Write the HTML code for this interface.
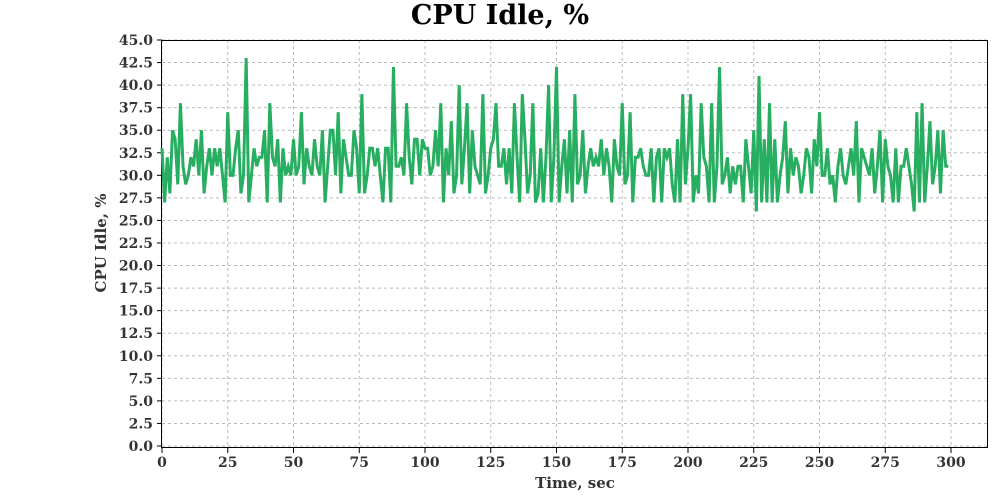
<!DOCTYPE html>
<html><head><meta charset="utf-8"><style>
body{margin:0;background:#fff;}
svg{display:block;font-family:"DejaVu Serif","Liberation Serif",serif;}
</style></head><body>
<svg width="1000" height="500" id="chart">
<text x="500" y="24" text-anchor="middle" font-size="27" font-weight="bold">CPU Idle, %</text>
<text x="575" y="488" text-anchor="middle" font-size="15" font-weight="bold" fill="#333">Time, sec</text>
<text transform="translate(106,243) rotate(-90)" text-anchor="middle" font-size="15" font-weight="bold" fill="#333">CPU Idle, %</text>
<g id="grid"></g>
<g id="yticks"></g>
<g id="xticks"></g>
<rect x="161.5" y="40.5" width="826" height="407" fill="none" stroke="#000" stroke-width="1"/>
<path id="line" fill="none" stroke="#27ae60" stroke-width="3" stroke-linejoin="miter"/>
</svg>
<script>
const values=[33,27,32,28,35,34,29,38,31,29,
30,32,31,34,30,35,28,31,33,30,
33,31,33,30,27,37,30,30,33,35,
28,30,43,27,30,33,31,32,32,35,
27,38,32,31,34,27,33,30,31,30,
34,30,31,37,29,33,31,30,34,31,
30,35,27,31,35,35,30,37,28,34,
32,30,30,35,33,28,39,28,30,33,
33,31,33,30,27,33,33,27,42,31,
31,32,30,38,32,29,34,34,30,34,
33,33,30,31,35,31,38,27,33,30,
36,28,30,40,29,33,38,28,35,31,
30,29,39,28,30,33,34,38,31,31,
33,29,33,28,38,32,27,39,34,28,
30,38,27,28,33,27,32,40,27,32,
42,27,31,34,28,35,27,39,29,30,
35,28,31,33,31,32,31,34,30,33,
31,27,34,31,30,38,29,30,37,27,
32,32,33,31,30,30,33,27,32,33,
27,33,32,33,29,27,34,27,39,29,
33,39,27,30,28,38,32,31,27,38,
27,31,42,29,30,32,28,31,29,31,
31,27,34,31,28,35,26,41,27,34,
27,38,27,34,27,30,32,36,28,33,
30,32,31,28,30,33,32,28,34,31,
37,30,30,33,29,30,27,31,33,30,
29,31,33,30,36,27,33,32,31,30,
33,28,31,35,27,34,31,30,27,33,
27,31,31,33,31,29,26,37,27,38,
27,31,36,29,31,35,28,35,31,31];
const xTicks=[0,25,50,75,100,125,150,175,200,225,250,275,300];
const yTicks=[0,2.5,5,7.5,10,12.5,15,17.5,20,22.5,25,27.5,30,32.5,35,37.5,40,42.5,45];
const NS="http://www.w3.org/2000/svg";
const X=t=>162+t*(951-162)/300;
const Y=v=>446-v*(406/45);
const grid=document.getElementById('grid'),yt=document.getElementById('yticks'),xt=document.getElementById('xticks');
function mk(tag,attrs,parent){const e=document.createElementNS(NS,tag);for(const k in attrs)e.setAttribute(k,attrs[k]);parent.appendChild(e);return e;}
yTicks.forEach(v=>{
 const l=mk('line',{x1:162,x2:988,y1:Y(v),y2:Y(v),stroke:'#bbb','stroke-dasharray':'3,3'},grid);
 
 
 const tk=mk('line',{x1:157,x2:162,y1:Y(v),y2:Y(v),stroke:'#000'},yt);
 
 
 const t=mk('text',{x:153,y:Y(v)+5,'text-anchor':'end','font-size':'14','font-weight':'bold',fill:'#333'},yt);
 t.textContent=v.toFixed(1);
 
 
});
xTicks.forEach(v=>{
 const l=mk('line',{x1:X(v),x2:X(v),y1:40,y2:448,stroke:'#bbb','stroke-dasharray':'3,3'},grid);
 
 
 const tk=mk('line',{x1:X(v),x2:X(v),y1:448,y2:453,stroke:'#000'},xt);
 
 
 const t=mk('text',{x:X(v),y:467,'text-anchor':'middle','font-size':'14','font-weight':'bold',fill:'#333'},xt);
 t.textContent=v;
 
 
});
document.getElementById('line').setAttribute('d',values.map((v,i)=>(i?'L':'M')+X(i).toFixed(2)+','+Y(v).toFixed(2)).join(''));
</script>
</body></html>
